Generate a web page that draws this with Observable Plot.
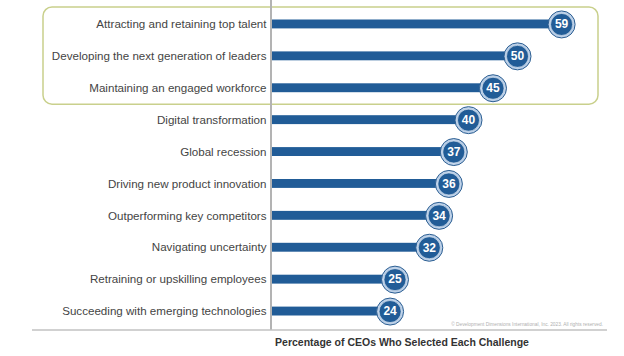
<!DOCTYPE html>
<html>
<head>
<meta charset="utf-8">
<script src="https://cdn.jsdelivr.net/npm/d3@7"></script>
<script src="https://cdn.jsdelivr.net/npm/@observablehq/plot@0.6"></script>
<style>
  html, body { margin: 0; padding: 0; background: #fff; }
  #chart svg { display: block; }
</style>
</head>
<body>
<div id="chart"></div>
<script>
const challenges = [
  "Attracting and retaining top talent",
  "Developing the next generation of leaders",
  "Maintaining an engaged workforce",
  "Digital transformation",
  "Global recession",
  "Driving new product innovation",
  "Outperforming key competitors",
  "Navigating uncertainty",
  "Retraining or upskilling employees",
  "Succeeding with emerging technologies"
];
const percentages = [59, 50, 45, 40, 37, 36, 34, 32, 25, 24];
const highlighted = challenges.slice(0, 3);
const chartTitle = "Percentage of CEOs Who Selected Each Challenge";
const copyright = "© Development Dimensions International, Inc. 2023. All rights reserved.";

const data = challenges.map((c, i) => ({challenge: c, value: percentages[i]}));

const W = 624, H = 356;
const barColor = "#215c97";

const plot = Plot.plot({
  width: W,
  height: H,
  marginLeft: 272,
  marginRight: 58,
  marginTop: 8,
  marginBottom: 29,
  style: {fontFamily: "'Liberation Sans', Arial, sans-serif", background: "#fff"},
  x: {domain: [0, 60], axis: null},
  y: {domain: challenges, padding: 0, round: false, label: null},
  marks: [
    Plot.axisY({tickSize: 0, tickPadding: 6, fontSize: 11.6, color: "#444", label: null}),
    Plot.barX(data, {x: "value", y: "challenge", fill: barColor, insetTop: 11.5, insetBottom: 11.5}),
    Plot.dot(data, {x: "value", y: "challenge", r: 13.5, fill: "#bcd0e8", stroke: "#2b5e92", strokeWidth: 1}),
    Plot.dot(data, {x: "value", y: "challenge", r: 11, fill: barColor, stroke: "#e6eef7", strokeWidth: 0.6}),
    Plot.text(data, {x: "value", y: "challenge", text: d => String(d.value), fill: "#fff", fontWeight: "bold", fontSize: 12})
  ]
});

document.getElementById("chart").appendChild(plot);

// Decorations
const svg = d3.select(plot);
const yScale = plot.scale("y");
const bw = yScale.bandwidth;
const hiTop = yScale.apply(highlighted[0]);
const hiBottom = yScale.apply(highlighted[highlighted.length - 1]) + bw;

svg.insert("rect", ":first-child")
  .attr("x", 43).attr("y", hiTop - 1)
  .attr("width", 598 - 43).attr("height", hiBottom - hiTop + 1.5)
  .attr("rx", 9).attr("ry", 9)
  .attr("fill", "none")
  .attr("stroke", "#c9d08c")
  .attr("stroke-width", 1.5);

svg.append("line")
  .attr("x1", 271).attr("x2", 271)
  .attr("y1", 0).attr("y2", 330)
  .attr("stroke", "#b3b3b3").attr("stroke-width", 2);

svg.append("line")
  .attr("x1", 32).attr("x2", 607)
  .attr("y1", 330).attr("y2", 330)
  .attr("stroke", "#c2c2c2").attr("stroke-width", 1.5);

svg.append("text")
  .attr("x", 603).attr("y", 326)
  .attr("text-anchor", "end")
  .attr("font-size", 4.8)
  .attr("fill", "#b0b0b0")
  .text(copyright);

svg.append("text")
  .attr("x", 402).attr("y", 345.5)
  .attr("text-anchor", "middle")
  .attr("font-size", 10.5)
  .attr("font-weight", "bold")
  .attr("fill", "#333")
  .text(chartTitle);
</script>
</body>
</html>
